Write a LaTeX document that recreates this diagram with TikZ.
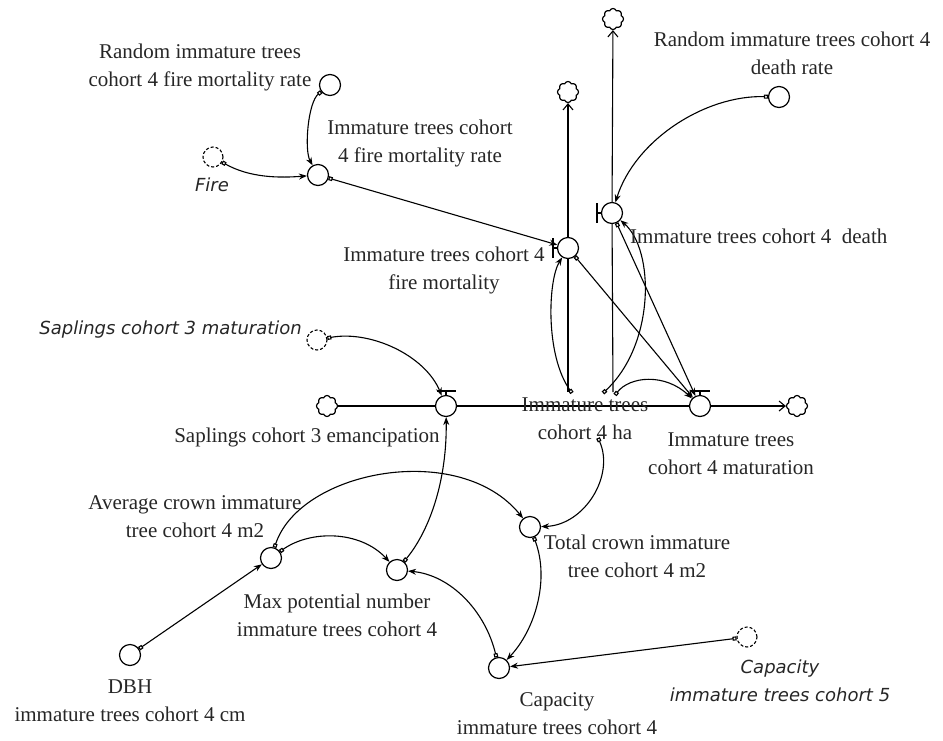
\documentclass[tikz,border=0pt]{standalone}
\usepackage{fontspec}
\setmainfont{Liberation Serif}
\newfontfamily\dvsans{DejaVu Sans}
\usetikzlibrary{arrows.meta,shapes.symbols,calc}
\begin{document}
\begin{tikzpicture}[x=1pt,y=-1pt,
  every node/.style={inner sep=0pt},
  aux/.style={circle,draw,line width=1.2pt,minimum size=21pt},
  ghost/.style={circle,draw,densely dashed,line width=1.1pt,minimum size=20pt},
  valve/.style={circle,draw,line width=1.2pt,minimum size=21pt},
  sink/.style={cloud,cloud puffs=8,cloud puff arc=140,aspect=1,draw,line width=1.2pt,minimum width=21pt,minimum height=21pt},
  lbl/.style={font=\fontsize{21}{28}\selectfont,align=center,text=black!85},
  glbl/.style={font=\dvsans\itshape\fontsize{18}{28}\selectfont,align=center,text=black!85},
  link/.style={line width=1.1pt,{Square[open,length=4pt,width=4pt]}-{Stealth[length=8pt,width=6pt]}},
  pipe/.style={line width=1.1pt},
  flowend/.style={pipe,-{Straight Barb[length=6pt,width=10pt]}},
  bar/.style={line width=1.3pt},
]
\useasboundingbox (0,0) rectangle (943,740);

% ---- variables, valves and clouds
\node[aux]   (rfr)  at (330,85)  {};
\node[ghost] (fire) at (213,157) {};
\node[aux]   (fmr)  at (318,175) {};
\node[valve] (fmv)  at (568,248) {};
\node[valve] (dv)   at (612,213) {};
\node[aux]   (rdr)  at (779,97)  {};
\node[sink]  (tc1)  at (568,92)  {};
\node[sink]  (tc2)  at (613,19)  {};
\node[valve] (ev)   at (446,406) {};
\node[valve] (mv)   at (700,406) {};
\node[sink]  (lcl)  at (327,406) {};
\node[sink]  (rcl)  at (797,406) {};
\node[ghost] (smat) at (317,340) {};
\node[aux]   (tcr)  at (530,527) {};
\node[aux]   (ac)   at (271,558) {};
\node[aux]   (mp)   at (397,570) {};
\node[aux]   (dbh)  at (130,655) {};
\node[aux]   (cap4) at (499,668) {};
\node[ghost] (cap5) at (747,637) {};

% stock connection points (the stock itself has no box)
\coordinate (sv1) at (568,392);
\coordinate (sv2) at (613,392);
\coordinate (sm1) at (572,393);
\coordinate (sm2) at (603,393);
\coordinate (sm3) at (615,395);
\coordinate (sm4) at (598,438);

% ---- flow pipes
\draw[pipe] (lcl) -- (ev);
\draw[pipe] (ev) -- (mv);
\draw[flowend] (mv) -- (rcl);
\draw[pipe] (sv1) -- (fmv);
\draw[flowend] (fmv) -- (tc1);
\draw[pipe] (sv2) -- (dv);
\draw[flowend] (dv) -- (tc2);

% ---- valve bars
\draw[bar] ($(fmv)+(-15,-10)$) -- ($(fmv)+(-15,10)$);
\draw[bar] ($(fmv)+(-15,0)$) -- (fmv.west);
\draw[bar] ($(dv)+(-15,-10)$) -- ($(dv)+(-15,10)$);
\draw[bar] ($(dv)+(-15,0)$) -- (dv.west);
\draw[bar] ($(ev)+(-9,-15)$) -- ($(ev)+(10,-15)$);
\draw[bar] ($(ev)+(0,-15)$) -- (ev.north);
\draw[bar] ($(mv)+(-9,-15)$) -- ($(mv)+(10,-15)$);
\draw[bar] ($(mv)+(0,-15)$) -- (mv.north);

% ---- causal links
\draw[link] (rfr) .. controls (308,102) and (304,150) .. (fmr);
\draw[link] (fire) .. controls (250,178) and (280,178) .. (fmr);
\draw[link] (fmr) -- (fmv);
\draw[link] (rdr) .. controls (705,95) and (635,140) .. (dv);
\draw[link] (sm1) .. controls (545,355) and (548,280) .. (fmv);
\draw[link] (sm2) .. controls (655,345) and (655,250) .. (dv);
\draw[link] (sm3) .. controls (630,376) and (665,373) .. (mv);
\draw[link] (fmv) -- (mv);
\draw[link] (dv) -- (mv);
\draw[link] (smat) .. controls (370,330) and (425,355) .. (ev);
\draw[link] (mp) .. controls (430,530) and (447,480) .. (ev);
\draw[link] (sm4) .. controls (615,475) and (585,525) .. (tcr);
\draw[link] (ac) .. controls (300,470) and (460,440) .. (tcr);
\draw[link] (ac) .. controls (310,530) and (360,530) .. (mp);
\draw[link] (cap4) .. controls (485,610) and (450,575) .. (mp);
\draw[link] (tcr) .. controls (550,580) and (535,630) .. (cap4);
\draw[link] (cap5) -- (cap4);
\draw[link] (dbh) -- (ac);

% ---- labels
\node[lbl]  (l-rfr)   at (200,67.5) {Random immature trees\\cohort 4 fire mortality rate};
\node[lbl]  (l-fmr)   at (420,143)  {Immature trees cohort\\4 fire mortality rate};
\node[glbl] (l-fire)  at (212,185)  {Fire};
\node[lbl]  (l-rdr)   at (792,53)   {Random immature trees cohort 4\\death rate};
\node[lbl,anchor=west] (l-dv) at (630,236) {Immature trees cohort 4\ \ death};
\node[lbl]  (l-fmv)   at (444,270)  {Immature trees cohort 4\\fire mortality};
\node[glbl,anchor=east] (l-smat) at (302,330) {Saplings cohort 3 maturation};
\node[lbl]  (l-ev)    at (307,437)  {Saplings cohort 3 emancipation};
\node[lbl]  (l-stock) at (585,419)  {Immature trees\\cohort 4 ha};
\node[lbl]  (l-mv)    at (731,454)  {Immature trees\\cohort 4 maturation};
\node[lbl]  (l-ac)    at (195,517)  {Average crown immature\\tree cohort 4 m2};
\node[lbl]  (l-tc)    at (637,556)  {Total crown immature\\tree cohort 4 m2};
\node[lbl]  (l-mp)    at (337,615)  {Max potential number\\immature trees cohort 4};
\node[lbl]  (l-dbh)   at (130,701)  {DBH\\immature trees cohort 4 cm};
\node[lbl]  (l-cap4)  at (557,714)  {Capacity\\immature trees cohort 4};
\node[glbl] (l-cap5)  at (780,681)  {Capacity\\immature trees cohort 5};
\end{tikzpicture}
\end{document}
